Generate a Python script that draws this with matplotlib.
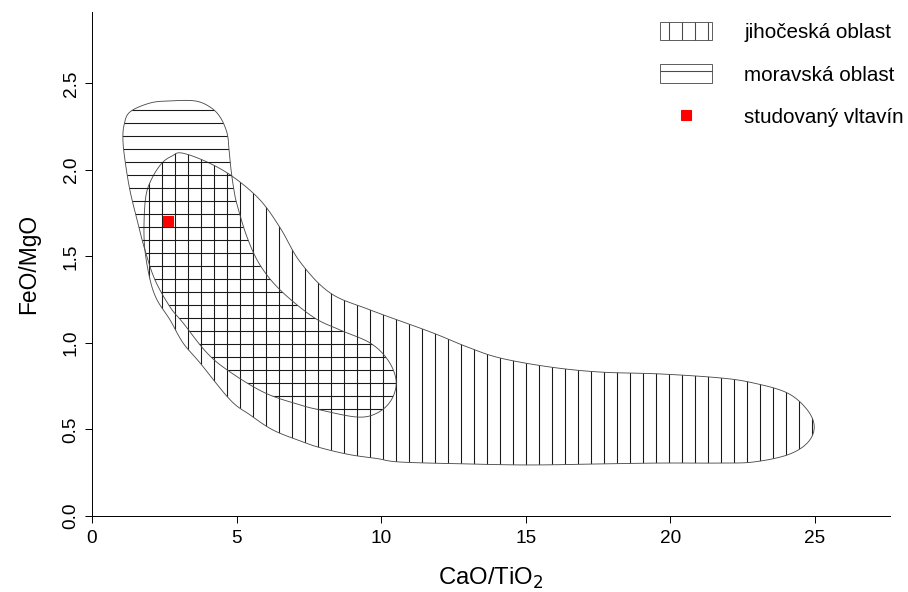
import matplotlib
matplotlib.use("Agg")
import numpy as np
import matplotlib.pyplot as plt
from matplotlib.patches import Polygon, Patch
from matplotlib.lines import Line2D

plt.rcParams['font.family'] = ['Liberation Sans', 'DejaVu Sans']
plt.rcParams['hatch.linewidth'] = 1.0

# outline of the jihočeská oblast field (CaO/TiO2, FeO/MgO)
jih_x = [3.11, 3.98, 4.88, 5.81, 6.51, 7.20, 8.24, 9.62, 11.70, 12.98, 14.12, 15.85,
         17.58, 19.65, 21.73, 22.87, 24.05, 24.74, 24.98, 24.74, 24.05, 22.87, 21.73,
         19.65, 17.58, 15.16, 12.98, 10.66, 9.86, 8.90, 7.89, 7.20, 6.26, 5.47, 4.78, 3.74,
         3.15, 2.70, 2.25, 2.01, 1.83, 1.80, 1.87, 2.08, 2.42, 2.77]
jih_y = [2.098, 2.046, 1.960, 1.827, 1.665, 1.468, 1.289, 1.191, 1.064, 0.977, 0.913, 0.861,
         0.832, 0.821, 0.798, 0.769, 0.711, 0.613, 0.514, 0.422, 0.353, 0.312, 0.306,
         0.306, 0.301, 0.295, 0.301, 0.312, 0.332, 0.355, 0.395, 0.434, 0.497, 0.584, 0.671, 0.884,
         1.000, 1.133, 1.249, 1.364, 1.538, 1.694, 1.855, 1.954, 2.040, 2.081]

# outline of the moravská oblast field
mor_x = [1.11, 1.31, 2.01, 2.70, 3.56, 4.08, 4.43, 4.67, 4.74, 4.81, 4.91, 5.02, 5.36,
         5.81, 6.51, 7.65, 8.58, 9.62, 10.24, 10.52, 10.35, 9.86, 9.17, 7.89, 7.20, 5.99,
         4.78, 3.98, 3.15, 2.70, 2.18, 1.83, 1.56, 1.31, 1.14, 1.07]
mor_y = [2.260, 2.335, 2.387, 2.399, 2.399, 2.364, 2.306, 2.214, 2.116, 2.000, 1.884, 1.798, 1.613,
         1.451, 1.306, 1.150, 1.075, 1.000, 0.900, 0.780, 0.670, 0.595, 0.572, 0.613, 0.642, 0.711,
         0.832, 0.942, 1.116, 1.208, 1.364, 1.538, 1.711, 1.884, 2.058, 2.173]

# studied moldavite
sample_x = [2.63]
sample_y = [1.705]

x_ticks = [0, 5, 10, 15, 20, 25]
y_ticks = [0.0, 0.5, 1.0, 1.5, 2.0, 2.5]
labels = ['jihočeská oblast', 'moravská oblast', 'studovaný vltavín']


def smooth_outline(xs, ys, steps=10):
    # closed Catmull-Rom curve through the traced outline points
    p = np.column_stack([xs, ys])
    n = len(p)
    out = []
    for i in range(n):
        p0, p1, p2, p3 = p[i - 1], p[i], p[(i + 1) % n], p[(i + 2) % n]
        for t in np.linspace(0, 1, steps, endpoint=False):
            out.append(0.5 * (2 * p1 + (-p0 + p2) * t
                              + (2 * p0 - 5 * p1 + 4 * p2 - p3) * t ** 2
                              + (-p0 + 3 * p1 - 3 * p2 + p3) * t ** 3))
    return np.array(out)


DPI = 78
fig = plt.figure(figsize=(908 / DPI, 592 / DPI), dpi=DPI)
ax = fig.add_axes([92 / 908, 76 / 592, 798 / 908, 504 / 592])

hatch_col = '#1a1a1a'
line_col = '#4a4a4a'
for xs, ys, h in [(jih_x, jih_y, '|'), (mor_x, mor_y, '-')]:
    pts = smooth_outline(xs, ys)
    ax.add_patch(Polygon(pts, closed=True, facecolor='none', edgecolor=hatch_col,
                         linewidth=0, hatch=h))
    ax.add_patch(Polygon(pts, closed=True, facecolor='none', edgecolor=line_col,
                         linewidth=0.8))
ax.plot(sample_x, sample_y, 's', color='#ff0000', markersize=9.7, zorder=5)

ax.set_xlim(0, 27.6)
ax.set_ylim(0, 2.913)
ax.set_xticks(x_ticks)
ax.set_yticks(y_ticks)
ax.set_xticklabels([str(t) for t in x_ticks])
ax.set_yticklabels([f'{t:.1f}' for t in y_ticks], rotation=90, va='center')
ax.tick_params(direction='out', length=6.5, width=0.9, labelsize=17.5, pad=5)
ax.tick_params(axis='x', pad=6)
for s in ['top', 'right']:
    ax.spines[s].set_visible(False)
for s in ['left', 'bottom']:
    ax.spines[s].set_linewidth(0.9)

ax.set_xlabel('CaO/TiO$_2$', fontsize=22, labelpad=18)
ax.set_ylabel('FeO/MgO', fontsize=21, labelpad=21)

handles = [Patch(facecolor='none', edgecolor=line_col, linewidth=0.8, hatch='|'),
           Patch(facecolor='none', edgecolor=line_col, linewidth=0.8, hatch='-'),
           Line2D([], [], marker='s', linestyle='none', color='#ff0000', markersize=9.7)]
fig.legend(handles, labels, loc='upper left', bbox_to_anchor=(660 / 908, 1 - 22 / 592),
           frameon=False, fontsize=19, borderpad=0, borderaxespad=0,
           handlelength=2.52, handleheight=1.0, handletextpad=1.58, labelspacing=1.08)

fig.savefig('out.png', dpi=DPI)
